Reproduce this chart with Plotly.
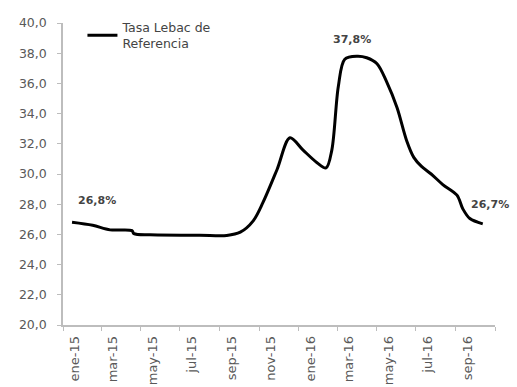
import plotly.graph_objects as go

# Tasa Lebac de referencia (% anual), serie suavizada
fechas = [
    "2015-01-15", "2015-02-16", "2015-03-15", "2015-04-18", "2015-04-21",
    "2015-05-16", "2015-08-01", "2015-09-12", "2015-10-03", "2015-10-23",
    "2015-11-07", "2015-11-29", "2015-12-19", "2016-01-08", "2016-01-30",
    "2016-02-13", "2016-02-22", "2016-03-03", "2016-03-13", "2016-04-01",
    "2016-04-16", "2016-05-02", "2016-05-17", "2016-06-02", "2016-06-17",
    "2016-06-28", "2016-07-10", "2016-07-25", "2016-08-12", "2016-09-03",
    "2016-09-12", "2016-09-23", "2016-10-13",
]
tasa = [
    26.8, 26.6, 26.3, 26.25, 26.05,
    25.97, 25.95, 25.93, 26.15, 26.9,
    28.1, 30.3, 32.4, 31.6, 30.75,
    30.4, 31.6, 35.8, 37.6, 37.8,
    37.7, 37.3, 36.1, 34.4, 32.2,
    31.1, 30.5, 30.0, 29.3, 28.6,
    27.7, 27.05, 26.7,
]

ticks_x = ["2015-01-01", "2015-03-01", "2015-05-01", "2015-07-01", "2015-09-01",
           "2015-11-01", "2016-01-01", "2016-03-01", "2016-05-01", "2016-07-01",
           "2016-09-01", "2016-11-01"]
ticks_x_text = ["ene-15", "mar-15", "may-15", "jul-15", "sep-15", "nov-15",
                "ene-16", "mar-16", "may-16", "jul-16", "sep-16", ""]
ticks_y = [20, 22, 24, 26, 28, 30, 32, 34, 36, 38, 40]
ticks_y_text = [f"{v:.1f}".replace(".", ",") for v in ticks_y]

etiquetas_idx = [0, tasa.index(max(tasa)), len(tasa) - 1]

FONT = "DejaVu Sans"
GRIS_TXT = "#595959"
GRIS_EJE = "#bdbdbd"

fig = go.Figure()
fig.add_trace(go.Scatter(
    x=fechas, y=tasa, mode="lines",
    line=dict(color="black", width=3, shape="spline", smoothing=0.9),
    name="Tasa Lebac de<br>Referencia",
))

# desplazamientos (px) de las etiquetas de valor: inicio, máximo, final
shifts = {0: (25, 22), 1: (-5, 17), 2: (7, 19)}
for k, i in enumerate(etiquetas_idx):
    dx, dy = shifts[k]
    fig.add_annotation(
        x=fechas[i], y=tasa[i],
        text=f"<b>{tasa[i]:.1f}%</b>".replace(".", ","),
        showarrow=False, xshift=dx, yshift=dy,
        font=dict(family=FONT, size=11, color="#444444"),
    )

fig.update_layout(
    width=517, height=387,
    margin=dict(l=63, r=22, t=18, b=62),
    paper_bgcolor="white", plot_bgcolor="white",
    font=dict(family=FONT, size=12, color=GRIS_TXT),
    showlegend=True,
    legend=dict(
        x=0.045, y=1.035, xanchor="left", yanchor="top",
        bgcolor="rgba(0,0,0,0)", font=dict(family=FONT, size=12.5, color="#444444"),
        itemwidth=30, tracegroupgap=0,
    ),
    xaxis=dict(
        range=["2015-01-01", "2016-11-01"], automargin=False,
        tickmode="array", tickvals=ticks_x, ticktext=ticks_x_text,
        tickangle=-90, ticks="outside", ticklen=4, tickcolor=GRIS_EJE,
        showline=True, linecolor=GRIS_EJE, linewidth=1.5,
        showgrid=False, zeroline=False, ticklabelshift=12,
        tickfont=dict(family=FONT, size=13, color=GRIS_TXT),
    ),
    yaxis=dict(
        range=[20, 40], automargin=False,
        tickmode="array", tickvals=ticks_y, ticktext=ticks_y_text,
        ticks="outside", ticklen=4, tickcolor=GRIS_EJE,
        showline=True, linecolor=GRIS_EJE, linewidth=1.5,
        showgrid=False, zeroline=False, ticklabelstandoff=8,
        tickfont=dict(family=FONT, size=12.5, color=GRIS_TXT),
    ),
)

fig.write_html("out.html")
